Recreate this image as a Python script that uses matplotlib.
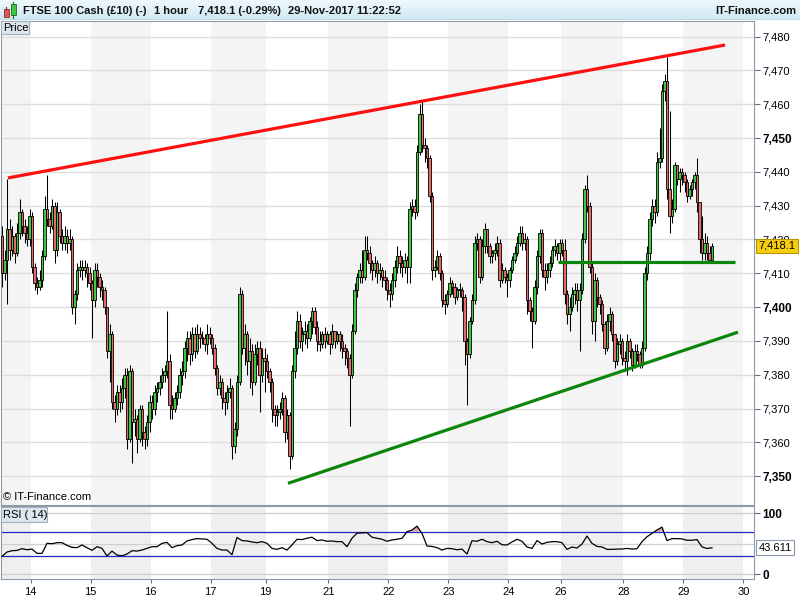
#!/usr/bin/env python3
import numpy as np
import matplotlib
matplotlib.use('Agg')
import matplotlib.pyplot as plt
import matplotlib.transforms as mtransforms
from matplotlib.patches import Rectangle
from matplotlib.colors import LinearSegmentedColormap

plt.rcParams['font.family'] = ['Liberation Sans', 'DejaVu Sans']

# FTSE 100 cash, 1 hour candles, 13-Nov midday -> 29-Nov 11:00
# open of a candle = close of the one before
first_open = 7421

closes = [
    7410, 7414, 7423, 7417, 7421, 7416, 7422, 7428, 7424, 7422,
    7420, 7427, 7412, 7407, 7406, 7408, 7415, 7429, 7426, 7424,
    7430, 7417, 7428, 7421, 7419, 7421, 7419, 7420, 7400, 7404,
    7411, 7412, 7411, 7412, 7410, 7407, 7402, 7411, 7409, 7406,
    7405, 7400, 7387, 7392, 7372, 7370, 7375, 7372, 7376, 7380,
    7361, 7381, 7366, 7367, 7361, 7370, 7363, 7361, 7366, 7372,
    7370, 7375, 7376, 7378, 7380, 7381, 7384, 7371, 7370, 7373,
    7375, 7380, 7381, 7388, 7391, 7386, 7392, 7387, 7392, 7391,
    7391, 7389, 7392, 7391, 7388, 7382, 7376, 7378, 7373, 7372,
    7375, 7376, 7359, 7364, 7378, 7404, 7388, 7392, 7384, 7387,
    7378, 7386, 7388, 7380, 7385, 7384, 7381, 7378, 7370, 7368,
    7369, 7370, 7373, 7363, 7368, 7356, 7381, 7388, 7396, 7390,
    7392, 7393, 7391, 7396, 7399, 7394, 7390, 7389, 7392, 7390,
    7392, 7389, 7393, 7390, 7392, 7390, 7388, 7387, 7385, 7380,
    7393, 7405, 7409, 7411, 7409, 7417, 7416, 7413, 7411, 7413,
    7410, 7411, 7409, 7408, 7405, 7404, 7408, 7412, 7415, 7413,
    7412, 7414, 7412, 7429, 7430, 7428, 7446, 7457, 7448, 7447,
    7444, 7433, 7411, 7412, 7415, 7410, 7402, 7401, 7404, 7407,
    7406, 7403, 7405, 7405, 7403, 7390, 7386, 7396, 7402, 7419,
    7420, 7409, 7418, 7423, 7418, 7415, 7416, 7417, 7419, 7408,
    7411, 7409, 7408, 7411, 7414, 7416, 7419, 7422, 7419, 7420,
    7402, 7399, 7396, 7406, 7415, 7422, 7411, 7409, 7411, 7413,
    7417, 7418, 7416, 7419, 7417, 7404, 7398, 7400, 7404, 7405,
    7402, 7405, 7420, 7435, 7430, 7412, 7396, 7408, 7403, 7401,
    7395, 7388, 7396, 7398, 7392, 7384, 7389, 7390, 7385, 7384,
    7390, 7387, 7383, 7387, 7386, 7383, 7388, 7410, 7416, 7426,
    7430, 7428, 7443, 7444, 7464, 7467, 7435, 7427, 7429, 7442,
    7438, 7440, 7439, 7437, 7433, 7435, 7437, 7439, 7431, 7420,
    7416, 7419, 7416, 7414, 7418.1,
]

highs = [
    7424, 7417, 7438, 7426, 7424, 7422, 7425, 7432, 7429, 7426,
    7424, 7429, 7428, 7413, 7409, 7411, 7417, 7433, 7439, 7428,
    7432, 7431, 7431, 7429, 7423, 7424, 7423, 7423, 7421, 7405,
    7413, 7414, 7414, 7414, 7413, 7412, 7408, 7413, 7413, 7410,
    7408, 7406, 7400, 7395, 7393, 7374, 7377, 7377, 7379, 7382,
    7382, 7383, 7382, 7370, 7368, 7371, 7371, 7365, 7368, 7374,
    7374, 7377, 7378, 7380, 7382, 7383, 7399, 7386, 7374, 7375,
    7377, 7382, 7384, 7390, 7393, 7393, 7394, 7394, 7395, 7394,
    7393, 7392, 7395, 7394, 7392, 7389, 7383, 7380, 7379, 7375,
    7377, 7379, 7377, 7366, 7380, 7406, 7405, 7395, 7393, 7391,
    7389, 7389, 7390, 7390, 7388, 7388, 7386, 7382, 7379, 7371,
    7371, 7372, 7375, 7374, 7370, 7369, 7383, 7393, 7399, 7398,
    7394, 7396, 7395, 7397, 7400, 7400, 7396, 7393, 7393, 7394,
    7393, 7393, 7395, 7393, 7393, 7393, 7392, 7389, 7388, 7386,
    7395, 7407, 7410, 7413, 7417, 7421, 7421, 7418, 7414, 7415,
    7414, 7413, 7412, 7411, 7409, 7407, 7410, 7414, 7418, 7417,
    7415, 7416, 7415, 7431, 7432, 7432, 7448, 7460, 7461, 7450,
    7448, 7445, 7434, 7414, 7417, 7416, 7411, 7404, 7405, 7409,
    7408, 7407, 7406, 7407, 7406, 7404, 7391, 7397, 7404, 7421,
    7422, 7421, 7420, 7425, 7423, 7419, 7417, 7419, 7421, 7420,
    7413, 7412, 7410, 7412, 7415, 7418, 7421, 7424, 7424, 7422,
    7421, 7403, 7400, 7408, 7417, 7423, 7423, 7413, 7413, 7415,
    7418, 7420, 7419, 7420, 7420, 7420, 7405, 7403, 7406, 7407,
    7407, 7407, 7422, 7436, 7439, 7431, 7413, 7410, 7409, 7404,
    7402, 7396, 7398, 7400, 7399, 7392, 7391, 7392, 7391, 7387,
    7392, 7391, 7388, 7389, 7389, 7387, 7390, 7412, 7418, 7428,
    7432, 7432, 7446, 7453, 7466, 7469, 7474, 7458, 7432, 7443,
    7442, 7441, 7441, 7440, 7438, 7436, 7438, 7440, 7444, 7431,
    7427, 7422, 7421, 7418, 7419,
]

lows = [
    7406, 7408, 7401, 7414, 7415, 7413, 7415, 7420, 7421, 7419,
    7418, 7418, 7410, 7405, 7404, 7405, 7406, 7414, 7424, 7422,
    7423, 7413, 7415, 7419, 7417, 7417, 7416, 7417, 7398, 7395,
    7402, 7409, 7408, 7409, 7406, 7405, 7391, 7400, 7406, 7403,
    7402, 7398, 7385, 7378, 7370, 7366, 7368, 7369, 7370, 7373,
    7358, 7360, 7354, 7362, 7357, 7360, 7359, 7358, 7359, 7363,
    7367, 7368, 7372, 7374, 7376, 7378, 7379, 7367, 7367, 7369,
    7371, 7373, 7377, 7379, 7384, 7383, 7384, 7385, 7386, 7388,
    7389, 7387, 7386, 7389, 7386, 7380, 7374, 7374, 7370, 7368,
    7370, 7373, 7355, 7357, 7362, 7377, 7386, 7383, 7380, 7376,
    7374, 7377, 7383, 7369, 7378, 7375, 7379, 7375, 7366, 7365,
    7365, 7367, 7368, 7360, 7361, 7352, 7355, 7379, 7386, 7388,
    7387, 7389, 7388, 7390, 7392, 7392, 7387, 7387, 7388, 7388,
    7389, 7386, 7388, 7388, 7389, 7387, 7385, 7383, 7382, 7365,
    7379, 7392, 7403, 7407, 7407, 7408, 7414, 7410, 7408, 7409,
    7407, 7408, 7406, 7405, 7402, 7400, 7402, 7406, 7410, 7410,
    7409, 7410, 7407, 7407, 7427, 7426, 7427, 7445, 7446, 7443,
    7441, 7431, 7408, 7409, 7411, 7408, 7400, 7398, 7400, 7403,
    7404, 7401, 7402, 7403, 7399, 7383, 7371, 7385, 7395, 7401,
    7417, 7407, 7408, 7416, 7416, 7413, 7413, 7414, 7415, 7406,
    7407, 7407, 7403, 7406, 7410, 7413, 7415, 7418, 7417, 7417,
    7398, 7396, 7388, 7395, 7404, 7413, 7409, 7405, 7407, 7409,
    7412, 7415, 7414, 7413, 7415, 7401, 7395, 7393, 7399, 7401,
    7399, 7387, 7404, 7419, 7428, 7410, 7392, 7390, 7400, 7398,
    7393, 7386, 7387, 7393, 7390, 7382, 7383, 7386, 7383, 7381,
    7380, 7385, 7381, 7382, 7384, 7382, 7382, 7387, 7408, 7414,
    7424, 7425, 7427, 7441, 7443, 7461, 7432, 7422, 7425, 7428,
    7436, 7434, 7436, 7434, 7431, 7432, 7433, 7435, 7428, 7416,
    7414, 7414, 7414, 7413, 7414,
]

# RSI(14) as shown in the lower panel, one reading every 2nd candle
rsi = [
    29.4, 36.5, 38.7, 39.2, 42.0, 40.3, 41.4, 34.3, 34.3, 50.8,
    50.2, 51.9, 51.9, 47.5, 44.2, 43.7, 48.1, 43.7, 39.2, 45.3,
    42.5, 30.0, 38.0, 31.5, 30.4, 33.2, 38.7, 38.1, 39.8, 42.5,
    45.3, 45.3, 50.8, 52.4, 43.7, 47.0, 48.1, 54.7, 57.0, 58.6,
    58.1, 57.5, 50.8, 42.5, 39.8, 39.8, 32.1, 60.5, 55.3, 54.7,
    53.1, 51.9, 53.6, 50.8, 42.5, 40.9, 43.7, 39.8, 48.1, 57.5,
    57.0, 59.2, 60.9, 55.3, 56.4, 54.2, 54.7, 53.6, 53.6, 45.3,
    59.2, 67.5, 68.0, 68.5, 60.9, 59.2, 57.5, 54.2, 56.4, 57.5,
    59.2, 69.9, 72.7, 79.2, 67.2, 46.4, 45.8, 43.7, 39.8, 42.5,
    42.0, 40.3, 41.4, 33.2, 55.1, 54.2, 57.5, 53.6, 51.9, 54.2,
    48.6, 48.1, 53.1, 57.5, 54.2, 44.8, 42.5, 55.3, 49.7, 52.4,
    53.6, 53.6, 51.9, 40.9, 44.8, 43.1, 49.7, 62.8, 50.8, 45.8,
    44.8, 40.9, 40.9, 41.4, 41.4, 42.5, 41.4, 42.0, 53.6, 61.7,
    67.2, 72.7, 77.6, 55.3, 58.6, 58.6, 58.1, 55.9, 55.9, 57.0,
    45.0, 42.3, 43.6,
]

# candle number where each labelled day starts
day_labels = ['14', '15', '16', '17', '19', '21', '22', '23', '24', '26', '28', '29', '30']
day_start = [12, 36, 60, 84, 106, 131, 155, 179, 203, 224, 249, 273, 297]

price_ticks = list(range(7350, 7481, 10))
last_price = 7418.1
last_rsi = 43.611

# hand drawn trend lines (candle number, price)
resist_x, resist_y = [2.4, 289.2], [7438.2, 7477.5]
support_x, support_y = [114.4, 294.4], [7347.9, 7392.6]
flat_x, flat_y = [222.4, 293.2], [7413.2, 7413.2]

W, H = 800, 600


def px_rect(x0, y0, x1, y1):
    # figure rect from pixel box, origin top-left
    return [x0 / W, 1 - y1 / H, (x1 - x0) / W, (y1 - y0) / H]


closes = np.array(closes, dtype=float)
opens = np.r_[first_open, closes[:-1]]
highs = np.maximum(np.array(highs, dtype=float), np.maximum(opens, closes))
lows = np.minimum(np.array(lows, dtype=float), np.minimum(opens, closes))
idx = np.arange(len(closes))

xlim = (-0.4, 300.8)
border = '#8a9aa8'

fig = plt.figure(figsize=(8, 6), dpi=100)

# ---- title bar
tbar = fig.add_axes(px_rect(0, 0, 800, 20))
grad = np.linspace(0, 1, 20).reshape(-1, 1)
tbar.imshow(grad, aspect='auto', extent=[0, 800, 20, 0],
            cmap=LinearSegmentedColormap.from_list('bar', ['#eef8fc', '#cfe8f3']))
tbar.set_xlim(0, 800)
tbar.set_ylim(20, 0)
tbar.axis('off')
tbar.add_patch(Rectangle((3.5, 9), 5, 8, fc='#e05a5a', ec='#8a2a2a', lw=0.6))
tbar.plot([6, 6], [7, 9], color='#8a2a2a', lw=0.8)
tbar.add_patch(Rectangle((10.5, 4), 5, 11, fc='#3fc83f', ec='#1e6e1e', lw=0.6))
tbar.plot([13, 13], [1.5, 4], color='#1e6e1e', lw=0.8)
tbar.plot([13, 13], [15, 18], color='#1e6e1e', lw=0.8)
tb = dict(va='center', fontsize=8, fontweight='bold', color='#111111')
tbar.text(23, 10.5, 'FTSE 100 Cash (£10) (-)', ha='left', **tb)
tbar.text(154, 10.5, '1 hour', ha='left', **tb)
tbar.text(198, 10.5, '7,418.1 (-0.29%)', ha='left', **tb)
tbar.text(288, 10.5, '29-Nov-2017 11:22:52', ha='left', **tb)
tbar.text(796, 10.5, 'IT-Finance.com', ha='right', **tb)
tbar.axhline(19.5, color='#8fa6b4', lw=1)

# ---- price panel
ax = fig.add_axes(px_rect(1, 21, 754, 505))
ax.set_xlim(*xlim)
ax.set_ylim(7341.5, 7484.6)
bounds = [xlim[0]] + [d - 0.5 for d in day_start] + [xlim[1]]
for k in range(0, len(bounds) - 1, 2):
    ax.axvspan(bounds[k], bounds[k + 1], color='#f4f4f4', lw=0, zorder=0)
for p in price_ticks:
    ax.axhline(p, color='#dedede', lw=1, zorder=1)

up = closes >= opens
body_lo = np.minimum(opens, closes)
body_h = np.maximum(np.abs(closes - opens), 0.3)
ax.vlines(idx, lows, highs, color='black', lw=0.75, zorder=2)
ax.bar(idx, body_h, bottom=body_lo, width=0.9,
       color=np.where(up, '#3fc83f', '#e46a6a'), edgecolor='black', linewidth=0.6, zorder=3)

ax.plot(resist_x, resist_y, color='#ff1010', lw=2.3, solid_capstyle='butt', zorder=5)
ax.plot(support_x, support_y, color='#0b860b', lw=2.3, solid_capstyle='butt', zorder=5)
ax.plot(flat_x, flat_y, color='#0b860b', lw=2.3, solid_capstyle='butt', zorder=5)

ax.yaxis.tick_right()
ax.set_yticks(price_ticks)
ax.set_yticklabels([f'{p:,}' for p in price_ticks])
for p, lab in zip(price_ticks, ax.get_yticklabels()):
    if p % 50 == 0:
        lab.set_fontweight('bold')
        lab.set_fontsize(8.5)
    else:
        lab.set_fontsize(8)
ax.tick_params(axis='y', direction='out', length=4, width=0.8, color='#607080', pad=2)
ax.set_xticks([])
for s in ax.spines.values():
    s.set_color(border)

tr = mtransforms.blended_transform_factory(ax.transAxes, ax.transData)
ax.text(1.006, last_price, f'{last_price:,.1f}', transform=tr, ha='left', va='center',
        fontsize=8, zorder=10, clip_on=False,
        bbox=dict(boxstyle='square,pad=0.2', fc='#f7cd12', ec='#b89600', lw=0.8))

# ---- RSI panel
ax2 = fig.add_axes(px_rect(1, 506, 754, 579))
ax2.set_xlim(*xlim)
ax2.set_ylim(-7.9, 112.3)
for k in range(0, len(bounds) - 1, 2):
    ax2.axvspan(bounds[k], bounds[k + 1], color='#efefef', lw=0, zorder=0)
for lv in (0, 50, 100):
    ax2.axhline(lv, color='#cfcfcf', lw=0.9, zorder=1)
for lv in (30, 70):
    ax2.axhline(lv, color='#2626c8', lw=0.9, zorder=1)

rsi = np.array(rsi)
rsi_x = idx[::2][:len(rsi)]
ax2.fill_between(rsi_x, rsi, 70, where=rsi > 70, interpolate=True,
                 color='#d9a3a3', lw=0, zorder=2)
ax2.plot(rsi_x, rsi, color='black', lw=0.9, zorder=3)

ax2.yaxis.tick_right()
ax2.set_yticks([0, 100])
ax2.set_yticklabels(['0', '100'], fontweight='bold', fontsize=8.5)
ax2.tick_params(axis='y', direction='out', length=4, width=0.8, color='#607080', pad=2)
ax2.set_xticks([d - 0.5 for d in day_start])
ax2.set_xticklabels(day_labels, fontsize=8)
ax2.tick_params(axis='x', direction='out', length=3, width=0.8, color='#607080', pad=3)
for s in ax2.spines.values():
    s.set_color(border)

tr2 = mtransforms.blended_transform_factory(ax2.transAxes, ax2.transData)
ax2.text(1.006, last_rsi, f'{last_rsi:.3f}', transform=tr2, ha='left', va='center',
         fontsize=8, zorder=10, clip_on=False,
         bbox=dict(boxstyle='square,pad=0.2', fc='white', ec='#8a9aa8', lw=0.8))

# ---- panel captions
over = fig.add_axes([0, 0, 1, 1], zorder=20)
over.set_xlim(0, W)
over.set_ylim(H, 0)
over.axis('off')
over.add_patch(Rectangle((1, 21), 28, 13, fc='#dde6ec', ec='#9eb0bd', lw=0.8))
over.text(3, 27.8, 'Price', va='center', ha='left', fontsize=8)
over.add_patch(Rectangle((1, 507), 46, 15, fc='#dde6ec', ec='#9eb0bd', lw=0.8))
over.text(3, 514.8, 'RSI ( 14)', va='center', ha='left', fontsize=8)
over.text(3, 497, '© IT-Finance.com', va='center', ha='left', fontsize=8)

fig.savefig('out.png', dpi=100)
